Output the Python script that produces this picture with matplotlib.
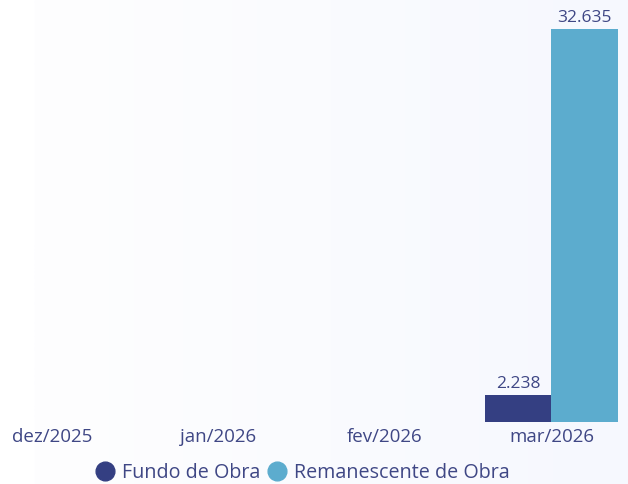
import numpy as np
import matplotlib.pyplot as plt
from matplotlib.colors import LinearSegmentedColormap
from matplotlib.lines import Line2D

# Data
meses = ['dez/2025', 'jan/2026', 'fev/2026', 'mar/2026']
fundo_obra = [0, 0, 0, 2238]
remanescente_obra = [0, 0, 0, 32635]

cor_fundo = '#343F82'
cor_rem = '#5CACCE'
cor_texto = '#3F4785'

W, H = 628, 484
fig = plt.figure(figsize=(W / 100, H / 100), dpi=100)
fig.patch.set_facecolor('white')

# light gradient panel behind the plot
bg = fig.add_axes([34 / W, 0, 1 - 34 / W, 1])
grad = np.linspace(0, 1, 256).reshape(1, -1)
cmap = LinearSegmentedColormap.from_list('bg', ['#FEFEFF', '#F6F8FE'])
bg.imshow(grad, aspect='auto', cmap=cmap, extent=[0, 1, 0, 1])
bg.set_axis_off()

ax = fig.add_axes([0, 62 / H, 1, 422 / H])
ax.patch.set_alpha(0)

x = np.arange(len(meses))
w = 0.4
b1 = ax.bar(x - w / 2, fundo_obra, w, color=cor_fundo)
b2 = ax.bar(x + w / 2, remanescente_obra, w, color=cor_rem)

def fmt(v):
    return f'{v:,}'.replace(',', '.')

for bars, vals in [(b1, fundo_obra), (b2, remanescente_obra)]:
    for rect, v in zip(bars, vals):
        if v > 0:
            ax.annotate(fmt(v), (rect.get_x() + rect.get_width() / 2, v),
                        xytext=(0, 2.5), textcoords='offset points',
                        ha='center', va='bottom', fontsize=12.5,
                        color=cor_texto, family='Open Sans')

px = 166.5
ax.set_xlim(-52 / px, (W - 52) / px)
ax.set_ylim(0, 32635 * 422 / 393)
ax.set_xticks(x)
ax.set_xticklabels(meses, fontsize=13.5, color=cor_texto, family='Open Sans')
ax.tick_params(axis='x', length=0, pad=4.5)
ax.set_yticks([])
for s in ax.spines.values():
    s.set_visible(False)

# legend with round markers
handles = [Line2D([], [], marker='o', ls='', markersize=13.5, color=cor_fundo),
           Line2D([], [], marker='o', ls='', markersize=13.5, color=cor_rem)]
leg = fig.legend(handles, ['Fundo de Obra', 'Remanescente de Obra'], loc='center',
                 bbox_to_anchor=(0.483, 11 / H), ncol=2, frameon=False,
                 handlelength=0.8, handletextpad=0.45, columnspacing=0.45,
                 prop={'family': 'Open Sans', 'size': 14.2})
for t in leg.get_texts():
    t.set_color(cor_texto)

fig.savefig('out.png', dpi=100)
